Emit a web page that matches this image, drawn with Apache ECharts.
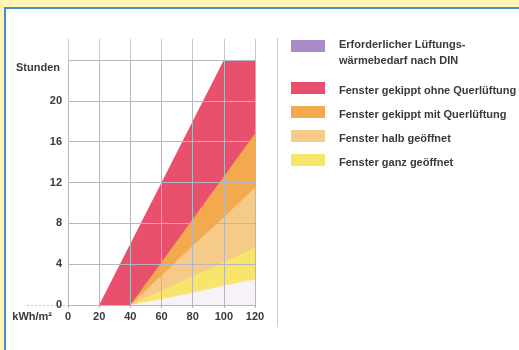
<!DOCTYPE html>
<html>
<head>
<meta charset="utf-8">
<script src="https://cdn.jsdelivr.net/npm/echarts@6/dist/echarts.min.js"></script>
<style>
  html, body { margin: 0; padding: 0; width: 519px; height: 350px; overflow: hidden; background: #fff4b2; }
  #panel { position: fixed; left: 4px; top: 7px; right: 0; bottom: 0; background: #fff;
           border-left: 2px solid #4a8cc6; border-top: 2px solid #4a8cc6; }
  #chart { position: fixed; left: 0; top: 0; width: 519px; height: 350px; }
</style>
</head>
<body>
<div id="panel"></div>
<div id="chart"></div>
<script>
// Flächen: obere Begrenzung jeder Fläche (Stunden) über dem Energiebedarf
const xValues = [20, 40, 60, 80, 100, 120];
const redTop = [0, 6, 12, 18, 24, 24];          // Fenster gekippt ohne Querlüftung
const orangeTop = [0, 0, 4.2, 8.4, 12.6, 16.8]; // Fenster gekippt mit Querlüftung
const peachTop = [0, 0, 2.9, 5.8, 8.6, 11.5];   // Fenster halb geöffnet
const yellowTop = [0, 0, 1.4, 2.8, 4.2, 5.6];   // Fenster ganz geöffnet
const dinTop = [0, 0, 0.6, 1.2, 1.9, 2.5];      // Erforderlicher Lüftungswärmebedarf nach DIN

const xTicks = [0, 20, 40, 60, 80, 100, 120];
const yTicks = [0, 4, 8, 12, 16, 20];

const legendNames = [
  'Erforderlicher Lüftungs-\nwärmebedarf nach DIN',
  'Fenster gekippt ohne Querlüftung',
  'Fenster gekippt mit Querlüftung',
  'Fenster halb geöffnet',
  'Fenster ganz geöffnet'
];
const colors = {
  din: '#a98bc7',
  red: '#e8506d',
  orange: '#f3aa4f',
  peach: '#f6cb8a',
  yellow: '#f7e56c'
};
const dinFill = '#f6f2f8';

const pairs = ys => xValues.map((x, i) => [x, ys[i]]);

function band(name, ys, color, fill) {
  return {
    name: name,
    type: 'line',
    data: pairs(ys),
    symbol: 'none',
    silent: true,
    z: 1,
    lineStyle: { width: 0 },
    itemStyle: { color: color },
    areaStyle: { color: fill || color, opacity: 1 }
  };
}

const textColor = '#3a3a3a';
const font = 'bold 11px "Liberation Sans", Arial, sans-serif';
const legendColors = [colors.din, colors.red, colors.orange, colors.peach, colors.yellow];
const legendTops = [40, 82, 106, 130, 154];
const legendGraphics = [];
legendNames.forEach((n, i) => {
  legendGraphics.push({
    type: 'rect', silent: true,
    shape: { x: 291, y: legendTops[i], width: 34, height: 12 },
    style: { fill: legendColors[i] }
  });
  const lines = n.split('\n');
  lines.forEach((t, k) => {
    legendGraphics.push({
      type: 'text', silent: true,
      style: {
        text: t, x: 339, y: legendTops[i] + (lines.length > 1 ? 5 + k * 16 : 9),
        font: font, fill: textColor, verticalAlign: 'middle', align: 'left'
      }
    });
  });
});

const labelStyle = { fontSize: 11, fontWeight: 'bold', color: textColor, fontFamily: '"Liberation Sans", Arial, sans-serif' };

const chart = echarts.init(document.getElementById('chart'), null, { renderer: 'canvas' });
chart.setOption({
  animation: false,
  grid: [
    { left: 68, top: 60, width: 187, height: 245 },
    { left: 68, top: 39, width: 187, height: 21 }
  ],
  xAxis: [
    {
      type: 'value', gridIndex: 0, min: 0, max: 120, interval: 20, z: 5,
      name: 'kWh/m²', nameLocation: 'start', nameGap: 16,
      nameTextStyle: Object.assign({ align: 'right', verticalAlign: 'top', padding: [6, 0, 0, 0] }, labelStyle),
      axisLine: { show: true, lineStyle: { color: '#b8b8c4', width: 1 } },
      axisTick: { show: true, length: 3, lineStyle: { color: '#b0b0b8' } },
      axisLabel: Object.assign({ margin: 6, formatter: v => (xTicks.indexOf(v) >= 0 ? String(v) : '') }, labelStyle),
      splitLine: { show: true, lineStyle: { color: '#b6b6be', width: 1 } }
    },
    {
      type: 'value', gridIndex: 1, min: 0, max: 120, interval: 20, z: 5,
      axisLine: { show: false }, axisTick: { show: false }, axisLabel: { show: false },
      splitLine: { show: true, lineStyle: { color: '#c8c8d0', width: 1 } }
    }
  ],
  yAxis: [
    {
      type: 'value', gridIndex: 0, min: 0, max: 24, interval: 4, z: 5,
      name: 'Stunden', nameLocation: 'end', nameGap: -8,
      nameTextStyle: Object.assign({ align: 'right', verticalAlign: 'middle', padding: [0, 8, 0, 0] }, labelStyle),
      axisLine: { show: false }, axisTick: { show: false },
      axisLabel: Object.assign({
        margin: 6, verticalAlign: 'middle', padding: [0, 0, 14, 0],
        formatter: v => (yTicks.indexOf(v) >= 0 ? String(v) : '')
      }, labelStyle),
      splitLine: { show: true, lineStyle: { color: '#b6b6be', width: 1 } }
    },
    { type: 'value', gridIndex: 1, min: 0, max: 1, show: false, splitLine: { show: false } }
  ],
  series: [
    band(legendNames[1], redTop, colors.red),
    band(legendNames[2], orangeTop, colors.orange),
    band(legendNames[3], peachTop, colors.peach),
    band(legendNames[4], yellowTop, colors.yellow),
    band(legendNames[0], dinTop, colors.din, dinFill)
  ],
  graphic: [
    { type: 'line', silent: true, shape: { x1: 277.5, y1: 38, x2: 277.5, y2: 327 }, style: { stroke: '#cfcfd4', lineWidth: 1 } },
    { type: 'line', silent: true, shape: { x1: 27, y1: 305.5, x2: 68, y2: 305.5 }, style: { stroke: '#c4c4cc', lineWidth: 1, lineDash: [2, 2] } }
  ].concat(legendGraphics)
});
</script>
</body>
</html>
